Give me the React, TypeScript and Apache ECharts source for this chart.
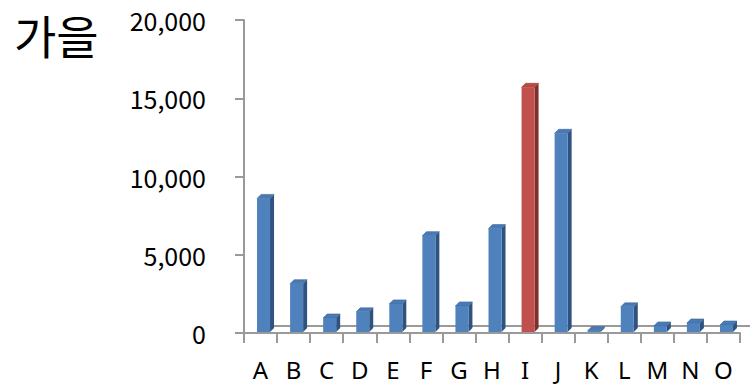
import React, { useEffect, useRef } from "react";
import * as echarts from "echarts";

const categories = ["A", "B", "C", "D", "E", "F", "G", "H", "I", "J", "K", "L", "M", "N", "O"];
const values = [8600, 3150, 960, 1350, 1860, 6220, 1730, 6670, 15700, 12760, 150, 1670, 450, 640, 510];
const yTicks = [0, 5000, 10000, 15000, 20000];
const highlighted = "I";
const titleText = "가을";

const FONT = "'Noto Sans CJK KR', 'Noto Sans', sans-serif";
const LATIN_FONT = "'Noto Sans', 'Open Sans', sans-serif";
const AXIS_GRAY = "#9a9a9a";

const BLUE = { front: "#4f81bd", side: "#2f5380", top: "#4a7ab5", edge: "#3a6499" };
const RED = { front: "#c0504d", side: "#7e2e2c", top: "#b84a47", edge: "#9a3a38" };

export default function App() {
  const ref = useRef<HTMLDivElement>(null);

  useEffect(() => {
    if (!ref.current) return;
    const chart = echarts.init(ref.current, null, { renderer: "svg" });

    const barSeriesData = categories.map((c, i) => [i, values[i]]);

    const option: any = {
      animation: false,
      backgroundColor: "#ffffff",
      title: {
        text: titleText,
        left: 9,
        top: 2,
        textStyle: { fontFamily: FONT, fontSize: 46, fontWeight: "normal", color: "#000", lineHeight: 54 },
      },
      grid: { left: 244, right: 10, top: 20, bottom: 53 },
      xAxis: {
        type: "category",
        data: categories,
        boundaryGap: true,
        axisLine: { show: true, lineStyle: { color: AXIS_GRAY, width: 2 } },
        axisTick: { show: true, length: 10, lineStyle: { color: AXIS_GRAY, width: 2 } },
        axisLabel: {
          fontFamily: LATIN_FONT,
          fontSize: 24,
          lineHeight: 24,
          color: "#000",
          margin: 24,
          interval: 0,
        },
        splitLine: { show: false },
      },
      yAxis: {
        type: "value",
        min: yTicks[0],
        max: yTicks[yTicks.length - 1],
        interval: yTicks[1] - yTicks[0],
        axisLine: { show: true, lineStyle: { color: AXIS_GRAY, width: 2 } },
        axisTick: { show: true, length: 9, lineStyle: { color: AXIS_GRAY, width: 2 } },
        axisLabel: {
          fontFamily: FONT,
          fontSize: 25,
          color: "#000",
          margin: 38,
          formatter: (v: number) => v.toLocaleString("en-US"),
        },
        splitLine: { show: false },
      },
      series: [
        {
          // floor of the 3D plot area: back edge and the two side edges
          type: "custom",
          z: 1,
          silent: true,
          data: [[0]],
          renderItem: (params: any, api: any) => {
            const n = categories.length;
            const [xl, y0] = api.coord([-0.5, 0]);
            const [xr] = api.coord([n - 0.5, 0]);
            const line = { stroke: AXIS_GRAY, lineWidth: 2, fill: "none" };
            return {
              type: "group",
              children: [
                {
                  type: "polyline",
                  shape: { points: [[xl, y0], [xl + 12, y0 - 7], [xr + 8, y0 - 7], [xr, y0]] },
                  style: line,
                },
              ],
            };
          },
        },
        {
          type: "custom",
          z: 3,
          data: barSeriesData,
          renderItem: (params: any, api: any) => {
            const idx = api.value(0);
            const val = api.value(1);
            const [cx, yTop] = api.coord([idx, val]);
            const [, yZero] = api.coord([idx, 0]);
            const c = categories[idx] === highlighted ? RED : BLUE;
            const x1 = cx - 3.5;
            const x2 = cx + 9.5;
            const yb = yZero - 1;
            const d = 4;
            return {
              type: "group",
              children: [
                {
                  type: "polygon",
                  shape: { points: [[x2, yTop], [x2 + d, yTop - d], [x2 + d, yb - d], [x2, yb]] },
                  style: { fill: c.side },
                },
                {
                  type: "polygon",
                  shape: { points: [[x1, yTop], [x1 + d, yTop - d], [x2 + d, yTop - d], [x2, yTop]] },
                  style: { fill: c.top, stroke: c.edge, lineWidth: 0.6 },
                },
                {
                  type: "rect",
                  shape: { x: x1, y: yTop, width: x2 - x1, height: yb - yTop },
                  style: { fill: c.front },
                },
              ],
            };
          },
        },
      ],
    };

    chart.setOption(option);
    return () => chart.dispose();
  }, []);

  return (
    <div
      ref={ref}
      style={{ position: "fixed", left: 0, top: 0, width: 750, height: 386, background: "#fff" }}
    />
  );
}
